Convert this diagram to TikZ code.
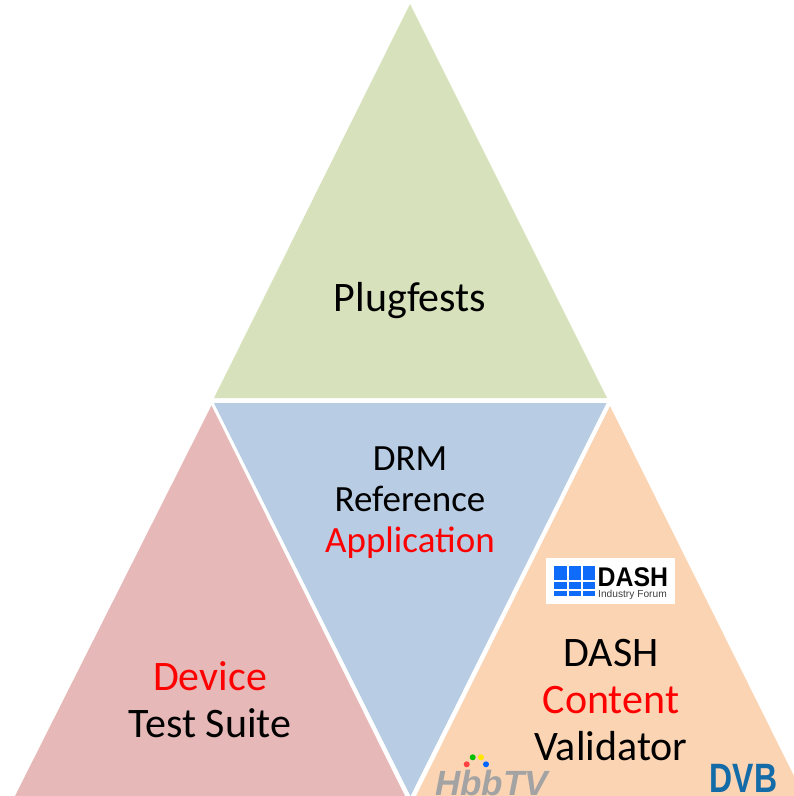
\documentclass[tikz,border=0pt]{standalone}
\usepackage{fontspec}
\setmainfont{Carlito}
\newfontfamily\logofont{Liberation Sans}
\definecolor{greenfill}{HTML}{D7E2BC}
\definecolor{bluefill}{HTML}{B8CCE4}
\definecolor{redfill}{HTML}{E6B8B7}
\definecolor{orangefill}{HTML}{FBD4B4}
\definecolor{dashblue}{HTML}{0F6CFB}
\definecolor{dvbblue}{HTML}{136BA8}
\definecolor{hbbgray}{HTML}{A3A3A3}
\tikzset{
  lab/.style={align=center, inner sep=0pt, font=\fontsize{42}{47}\selectfont},
  labsmall/.style={align=center, inner sep=0pt, font=\fontsize{37}{41}\selectfont},
  gridcell/.style={fill=dashblue, draw=none},
  dot/.style={circle, minimum size=6pt, inner sep=0pt, draw=none},
}
\begin{document}
\begin{tikzpicture}[x=1pt,y=-1pt]
\useasboundingbox (0,0) rectangle (794,796);
\fill[white] (0,0) rectangle (794,796);
% triangles
\fill[greenfill] (410,4) -- (607,398) -- (214,398) -- cycle;
\fill[bluefill] (214,403) -- (606.5,403) -- (410.5,796) -- cycle;
\fill[redfill] (211.5,405.5) -- (405,796) -- (15,796) -- cycle;
\fill[orangefill] (610,406) -- (794,776) -- (794,796) -- (416,796) -- cycle;
% labels
\node[lab] (plug) at (410,301) {Plugfests};
\node[labsmall] (drm) at (410,503) {DRM\\Reference\\\textcolor{red}{Application}};
\node[lab] (dev) at (210,700) {\textcolor{red}{Device}\\Test Suite};
\node[lab] (val) at (611,700) {DASH\\\textcolor{red}{Content}\\Validator};
% DASH logo
\fill[white] (546,558) rectangle (675,604);
\foreach \x in {554.3,568.7,583}{
  \fill[gridcell] (\x,566) rectangle +(12.4,14);
  \fill[gridcell] (\x,582) rectangle +(12.4,7);
  \fill[gridcell] (\x,591) rectangle +(12.4,5);
}
\node[anchor=base west,inner sep=0pt,font=\logofont\bfseries\fontsize{27}{27}\selectfont,xscale=.92] (dash) at (597.5,586) {DASH};
\node[anchor=base west,inner sep=0pt,font=\logofont\fontsize{10.2}{11}\selectfont,text=black!75] (idf) at (598,597) {Industry Forum};
% HbbTV logo
\node[anchor=base west,inner sep=0pt,font=\logofont\bfseries\itshape\fontsize{35}{36}\selectfont,text=hbbgray] (hbb) at (435,795.5) {HbbTV};
\node[dot,fill=red!75] (d1) at (466.7,764.3) {};
\node[dot,fill=green!75!black] (d2) at (472.7,757.3) {};
\node[dot,fill=yellow!90!orange] (d3) at (481,757.3) {};
\node[dot,fill=blue!60!cyan] (d4) at (486,764.3) {};
% DVB logo
\node[anchor=base,inner sep=0pt,font=\logofont\bfseries\fontsize{41}{41}\selectfont,text=dvbblue,xscale=.78] (dvb) at (743.5,792) {DVB};
\end{tikzpicture}
\end{document}
